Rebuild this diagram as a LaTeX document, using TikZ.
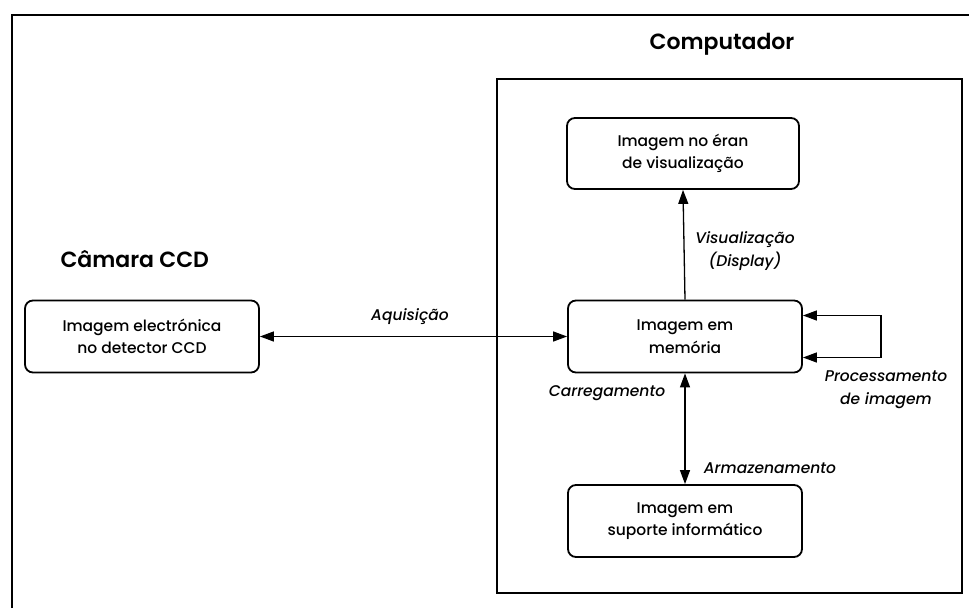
\documentclass[tikz,border=0pt]{standalone}
\usepackage{fontspec}
\setmainfont{Poppins}[UprightFont={* Medium}, ItalicFont={* Medium Italic}]
\newfontfamily\titulofont{Poppins}[UprightFont={* SemiBold}]
\usetikzlibrary{positioning, arrows.meta}

\begin{document}
\begin{tikzpicture}[
  x=1pt, y=-1pt,
  font=\fontsize{15.5}{22.5}\selectfont,
  >={Triangle[length=14pt,width=10pt]},
  caixa/.style={draw, line width=1.8pt, rounded corners=8pt, align=center,
                minimum width=234pt, minimum height=72pt, inner sep=0pt},
  quadro/.style={draw, line width=1.3pt},
  seta/.style={->, line width=1.3pt},
  setadupla/.style={<->, line width=1.3pt},
  rotulo/.style={font=\fontsize{15.5}{23}\selectfont\itshape, align=center},
  titulo/.style={font=\titulofont\fontsize{22}{26}\selectfont}
]
\useasboundingbox (0,0) rectangle (969,608);

% ---------- Moldura exterior e caixa do computador ----------
\draw[quadro] (12,608) -- (12,15) -- (969,15);
\node[quadro, minimum width=465pt, minimum height=514pt, inner sep=0pt] (comp) at (729.5,336) {};

% ---------- Títulos ----------
\node[titulo] (comptit) at (722,44) {Computador};
\node[titulo, anchor=west] (camtit) at (57,259) {Câmara CCD};

% ---------- Caixas ----------
\node[caixa] (ccd) at (142,336.5) {Imagem electrónica\\no detector CCD};
\node[caixa, minimum width=232pt, minimum height=71pt] (ecra) at (683,153.5) {Imagem no éran\\de visualização};
\node[caixa] (mem) at (685,336.5) {Imagem em\\memória};
\node[caixa] (suporte) at (685,521) {Imagem em\\suporte informático};

% ---------- Setas ----------
\draw[setadupla] (ccd.east) -- (mem.west);
\draw[seta] (mem.north) -- (ecra.south);
\draw[setadupla] (mem.south) -- (suporte.north);
\draw[setadupla] ([yshift=21pt]mem.east) -- ++(78,0) |- ([yshift=-21pt]mem.east);

% ---------- Rótulos das setas ----------
\node[rotulo] (aquis) at (410,317) {Aquisição};
\node[rotulo] (visual) at (745,251) {Visualização\\(Display)};
\node[rotulo] (carreg) at (607,393) {Carregamento};
\node[rotulo] (proc) at (886,390) {Processamento\\de imagem};
\node[rotulo] (armaz) at (770,468) {Armazenamento};

\end{tikzpicture}
\end{document}
